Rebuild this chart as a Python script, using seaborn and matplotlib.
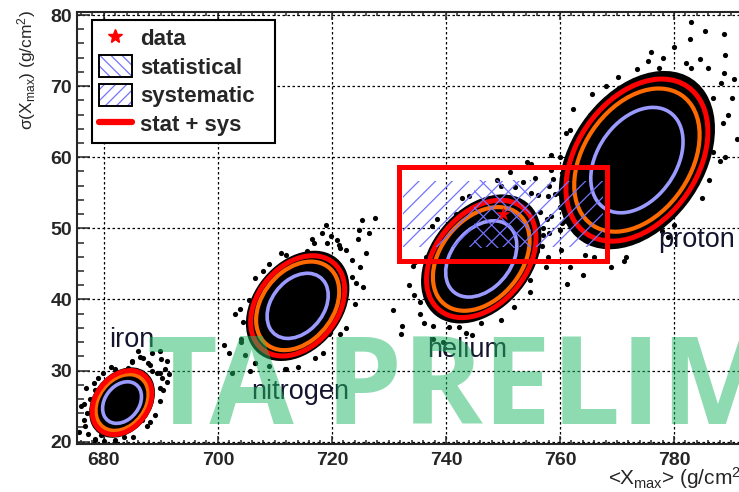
import numpy as np
import pandas as pd
import matplotlib
matplotlib.use("Agg")
import matplotlib.pyplot as plt
import seaborn as sns
from matplotlib.patches import Ellipse, Rectangle
from matplotlib.lines import Line2D
from matplotlib.ticker import MultipleLocator

# Simulated composition clouds: mean and spread of <Xmax> and sigma(Xmax)
species = ["iron", "nitrogen", "helium", "proton"]
mean_xmax = [683.2, 714.0, 746.2, 773.5]
mean_sigma = [25.5, 39.1, 45.7, 59.6]
spread_xmax = [1.75, 2.75, 3.2, 4.15]
spread_sigma = [1.5, 2.35, 2.75, 3.8]
correlation = [0.28, 0.32, 0.35, 0.35]

# Outlying simulated sets around each cloud
iron_x = [690.2, 689.3, 690.0, 687.8, 686.9, 684.3, 681.9, 680.0, 677.6, 677.1,
          675.7, 677.3, 678.4, 680.0, 682.0, 684.3, 686.7, 688.0, 690.4, 691.1,
          689.9, 688.4, 689.9, 691.0, 678.4, 676.5, 686.7, 688.5, 690.8, 686.0,
          685.0, 679.0, 676.0, 676.8, 679.5, 683.5, 687.5, 689.0, 691.5,
          689.9, 688.1, 685.0, 681.3, 678.3, 676.6, 676.7, 678.4, 681.9, 685.2,
          688.1, 689.8, 686.4, 679.8]
iron_y = [28.9, 29.6, 31.6, 31.0, 31.8, 30.4, 30.2, 27.8, 26.0, 24.1,
          21.4, 21.1, 20.3, 20.1, 20.3, 21.7, 23.0, 25.0, 27.2, 31.4,
          32.8, 32.4, 29.6, 28.4, 27.2, 23.0, 23.7, 30.0, 30.2, 32.8,
          31.2, 29.0, 25.0, 27.5, 21.0, 20.6, 22.2, 23.8, 29.5,
          27.6, 30.8, 31.4, 30.5, 28.2, 25.3, 22.2, 20.4, 20.0, 20.6,
          22.8, 25.7, 31.9, 29.6]
nitrogen_x = [725.0, 723.6, 724.5, 724.8, 721.2, 719.8, 715.7, 711.9, 709.0, 705.4,
              704.4, 701.9, 704.7, 705.6, 709.0, 712.0, 715.7, 719.5, 721.6, 725.4,
              726.5, 725.2, 720.9, 702.5, 707.3, 701.1, 723.6, 718.2, 722.5, 726.0,
              719.0, 716.5, 704.0, 706.5, 703.0, 708.0, 714.0, 718.5, 722.5, 727.5,
              724.3, 721.4, 716.9, 711.0, 706.6, 703.9, 704.1, 706.6, 711.7, 717.0,
              721.5, 724.1, 719.2, 708.9]
nitrogen_y = [44.5, 45.6, 48.5, 49.7, 47.7, 48.9, 46.8, 46.2, 42.7, 39.9,
              36.8, 32.5, 32.2, 30.0, 30.7, 30.2, 33.1, 35.1, 38.4, 41.8,
              49.3, 51.2, 48.3, 29.7, 41.4, 33.6, 43.2, 49.3, 47.0, 46.5,
              50.5, 48.5, 34.5, 31.0, 38.0, 44.0, 30.5, 32.5, 36.0, 51.5,
              42.3, 47.2, 48.0, 46.5, 43.0, 38.6, 34.0, 31.1, 30.2, 31.7,
              35.1, 39.4, 47.9, 45.0]
helium_x = [758.4, 759.8, 756.2, 758.7, 755.7, 752.1, 751.2, 746.2, 741.8, 738.8,
            734.3, 734.4, 732.3, 736.2, 737.8, 742.3, 746.2, 750.1, 754.8, 756.9,
            760.7, 761.8, 759.3, 763.8, 761.8, 758.4, 757.9, 732.1, 740.6, 738.5,
            754.2, 757.0, 760.0, 762.5, 764.5, 753.5, 755.0, 761.0, 765.5, 749.0,
            744.0, 733.5, 735.5, 739.5, 744.5, 752.0, 757.5, 730.8, 736.5,
            758.0, 754.9, 749.6, 742.9, 737.6, 734.6, 735.4, 737.7, 743.6, 749.6,
            754.8, 757.9, 756.5, 760.3]
helium_y = [51.7, 55.0, 54.7, 56.9, 57.1, 55.8, 57.9, 53.8, 52.0, 48.3,
            44.7, 40.6, 36.2, 36.7, 34.5, 36.1, 36.7, 40.0, 42.7, 47.5,
            51.1, 57.4, 58.6, 56.6, 54.4, 60.3, 54.5, 35.1, 36.1, 51.3,
            59.4, 50.0, 53.0, 55.2, 58.0, 56.5, 59.0, 59.5, 55.0, 56.8,
            54.5, 42.0, 38.0, 34.0, 35.0, 39.0, 44.5, 38.5, 46.0,
            49.4, 55.0, 56.0, 54.3, 50.3, 45.2, 39.6, 36.3, 35.3, 37.1,
            41.0, 46.0, 52.3, 50.8]
proton_x = [790.1, 788.3, 789.0, 784.6, 782.8, 777.4, 773.5, 769.6, 765.2, 763.2,
            758.4, 759.1, 755.9, 760.2, 761.8, 766.0, 769.0, 773.5, 777.9, 781.0,
            786.1, 786.8, 791.9, 788.7, 788.8, 771.0, 761.8, 757.7, 761.2, 789.4,
            791.9, 782.1, 786.0, 790.5, 792.5, 780.0, 785.5, 776.0, 768.0, 760.0,
            757.0, 764.0, 771.5, 780.0, 788.0, 791.0, 783.0,
            788.6, 786.9, 782.9, 778.1, 770.2, 765.6, 761.0, 758.1, 760.0, 764.4,
            771.2, 779.0, 785.0, 788.9, 775.5, 762.3]
proton_y = [68.3, 70.4, 74.4, 73.8, 76.6, 72.5, 72.4, 68.4, 66.0, 61.9,
            58.2, 54.9, 46.8, 46.9, 44.6, 46.0, 44.6, 48.4, 49.6, 53.8,
            56.8, 60.8, 65.6, 71.8, 77.4, 69.0, 63.9, 51.3, 42.2, 65.9,
            75.7, 73.3, 72.5, 71.0, 69.0, 75.5, 77.8, 74.8, 70.0, 60.0,
            49.0, 43.5, 46.0, 50.5, 59.5, 62.5, 79.0,
            64.8, 68.4, 72.6, 74.0, 71.3, 68.9, 63.4, 56.0, 49.8, 46.2,
            45.4, 48.8, 54.2, 60.1, 73.6, 66.8]

# Measured point with its uncertainties (<Xmax>, sigma)
data_xmax = 750.0
data_sigma = 52.0
stat_err = [5.0, 4.8]
sys_err = [17.5, 4.6]

x_ticks = [680, 700, 720, 740, 760, 780]
y_ticks = [20, 30, 40, 50, 60, 70, 80]

# ---------------------------------------------------------------- style
sns.set_style("ticks")
plt.rcParams["font.family"] = ["Liberation Sans", "DejaVu Sans"]
plt.rcParams["mathtext.fontset"] = "custom"
plt.rcParams["mathtext.rm"] = "Liberation Sans"
plt.rcParams["mathtext.default"] = "regular"
plt.rcParams["hatch.linewidth"] = 0.9

HATCH = "#7373ff"
LAVENDER = "#9a9aff"
ORANGE = "#ff6a00"
RED = "#ff0000"
contour_levels = [(1.95, LAVENDER, 2.6), (2.65, ORANGE, 3.0), (3.0, RED, 3.6)]

fig = plt.figure(figsize=(7.39, 4.92), dpi=100)
ax = fig.add_axes([77 / 739, 1 - 443.8 / 492, (759.5 - 77) / 739, (443.8 - 12.2) / 492])
ax.set_xlim(675.3, 795)
ax.set_ylim(19.7, 80.4)


def cov_ellipse(cx, cy, sx, sy, rho, k, **kw):
    cov = np.array([[sx * sx, rho * sx * sy], [rho * sx * sy, sy * sy]])
    vals, vecs = np.linalg.eigh(cov)
    angle = np.degrees(np.arctan2(vecs[1, 1], vecs[0, 1]))
    return Ellipse((cx, cy), 2 * k * np.sqrt(vals[1]), 2 * k * np.sqrt(vals[0]),
                   angle=angle, **kw)


# dense cores of the clouds
for cx, cy, sx, sy, rho in zip(mean_xmax, mean_sigma, spread_xmax, spread_sigma, correlation):
    ax.add_patch(cov_ellipse(cx, cy, sx, sy, rho, 3.3, facecolor="black",
                             edgecolor="none", zorder=2))

# outlying points
halo = pd.DataFrame({
    "xmax": iron_x + nitrogen_x + helium_x + proton_x,
    "sigma": iron_y + nitrogen_y + helium_y + proton_y,
})
sns.scatterplot(data=halo, x="xmax", y="sigma", color="black", s=14,
                linewidth=0, ax=ax, zorder=2)

# probability contours
for cx, cy, sx, sy, rho in zip(mean_xmax, mean_sigma, spread_xmax, spread_sigma, correlation):
    for k, col, lw in contour_levels:
        ax.add_patch(cov_ellipse(cx, cy, sx, sy, rho, k, facecolor="none",
                                 edgecolor=col, linewidth=lw, zorder=3))

# uncertainty boxes around the measurement
ax.add_patch(Rectangle((data_xmax - stat_err[0], data_sigma - stat_err[1]),
                       2 * stat_err[0], 2 * stat_err[1], fill=False,
                       hatch="\\\\", edgecolor=HATCH, linewidth=0, zorder=4))
ax.add_patch(Rectangle((data_xmax - sys_err[0], data_sigma - sys_err[1]),
                       2 * sys_err[0], 2 * sys_err[1], fill=False,
                       hatch="//", edgecolor=HATCH, linewidth=0, zorder=4))
tot_x = np.hypot(stat_err[0], sys_err[0])
tot_y = np.hypot(stat_err[1], sys_err[1])
ax.add_patch(Rectangle((data_xmax - tot_x, data_sigma - tot_y), 2 * tot_x, 2 * tot_y,
                       fill=False, edgecolor=RED, linewidth=3.6, zorder=5))
sns.scatterplot(x=[data_xmax], y=[data_sigma], marker="*", color=RED, s=110,
                linewidth=0, ax=ax, zorder=6)

# species labels
label_pos = {"iron": (684.9, 34.3), "nitrogen": (714.4, 27.0),
             "helium": (743.8, 32.9), "proton": (783.9, 48.4)}
for name in species:
    ax.text(*label_pos[name], name, ha="center", va="center", fontsize=19.5,
            color="#14142e", zorder=7)

# axes cosmetics
ax.set_xticks(x_ticks)
ax.set_yticks(y_ticks)
ax.xaxis.set_minor_locator(MultipleLocator(2))
ax.yaxis.set_minor_locator(MultipleLocator(2))
ax.grid(True, which="major", color="black", linestyle=(0, (2, 2)), linewidth=0.9)
ax.set_axisbelow(True)
for sp in ax.spines.values():
    sp.set_linewidth(1.5)
ax.tick_params(axis="both", which="both", direction="in", top=True, right=True,
               width=1.1)
ax.tick_params(axis="x", which="major", length=6, pad=6, labelsize=14)
ax.tick_params(axis="x", which="minor", length=3)
ax.tick_params(axis="y", which="major", length=9, pad=3.6, labelsize=14)
ax.tick_params(axis="y", which="minor", length=5)
for lab in ax.get_xticklabels() + ax.get_yticklabels():
    lab.set_fontweight("bold")
ax.set_xlabel("")
ax.set_ylabel("")

fig.text(748 / 739, 1 - 478 / 492, "<X$_{max}$> (g/cm$^{2}$)", ha="right", va="center",
         fontsize=15)
fig.text(27 / 739, 1 - 10 / 492, "σ(X$_{max}$) (g/cm$^{2}$)", ha="center", va="top",
         rotation=90, fontsize=12.5)

# legend
h_data = Line2D([], [], marker="*", color=RED, linestyle="none", markersize=10)
h_stat = (Rectangle((0, 0), 1, 1, fill=False, hatch="\\\\\\", edgecolor=HATCH, linewidth=0),
          Rectangle((0, 0), 1, 1, fill=False, edgecolor="black", linewidth=1.4))
h_sys = (Rectangle((0, 0), 1, 1, fill=False, hatch="///", edgecolor=HATCH, linewidth=0),
         Rectangle((0, 0), 1, 1, fill=False, edgecolor="black", linewidth=1.4))
h_tot = Line2D([], [], color=RED, linewidth=4.5)
leg = ax.legend([h_data, h_stat, h_sys, h_tot],
                ["data", "statistical", "systematic", "stat + sys"],
                loc="upper left",
                bbox_to_anchor=(92 / 739, 1 - 140 / 492, 183 / 739, 120 / 492),
                bbox_transform=fig.transFigure, mode="expand", frameon=True,
                fancybox=False, edgecolor="black", framealpha=1, borderpad=0.3,
                labelspacing=0.25, handlelength=1.5, handleheight=1.1,
                handletextpad=0.35, borderaxespad=0,
                prop={"size": 16, "weight": "bold"})
leg.get_frame().set_linewidth(1.5)
leg.set_zorder(8)

# preliminary watermark
fig.text(147 / 739, 1 - 424 / 492, "TA PRELIMINARY", ha="left", va="baseline",
         fontsize=88, family="Open Sans", weight="bold", color="#1eb964", alpha=0.5,
         zorder=20)

fig.savefig("out.png", dpi=100)
